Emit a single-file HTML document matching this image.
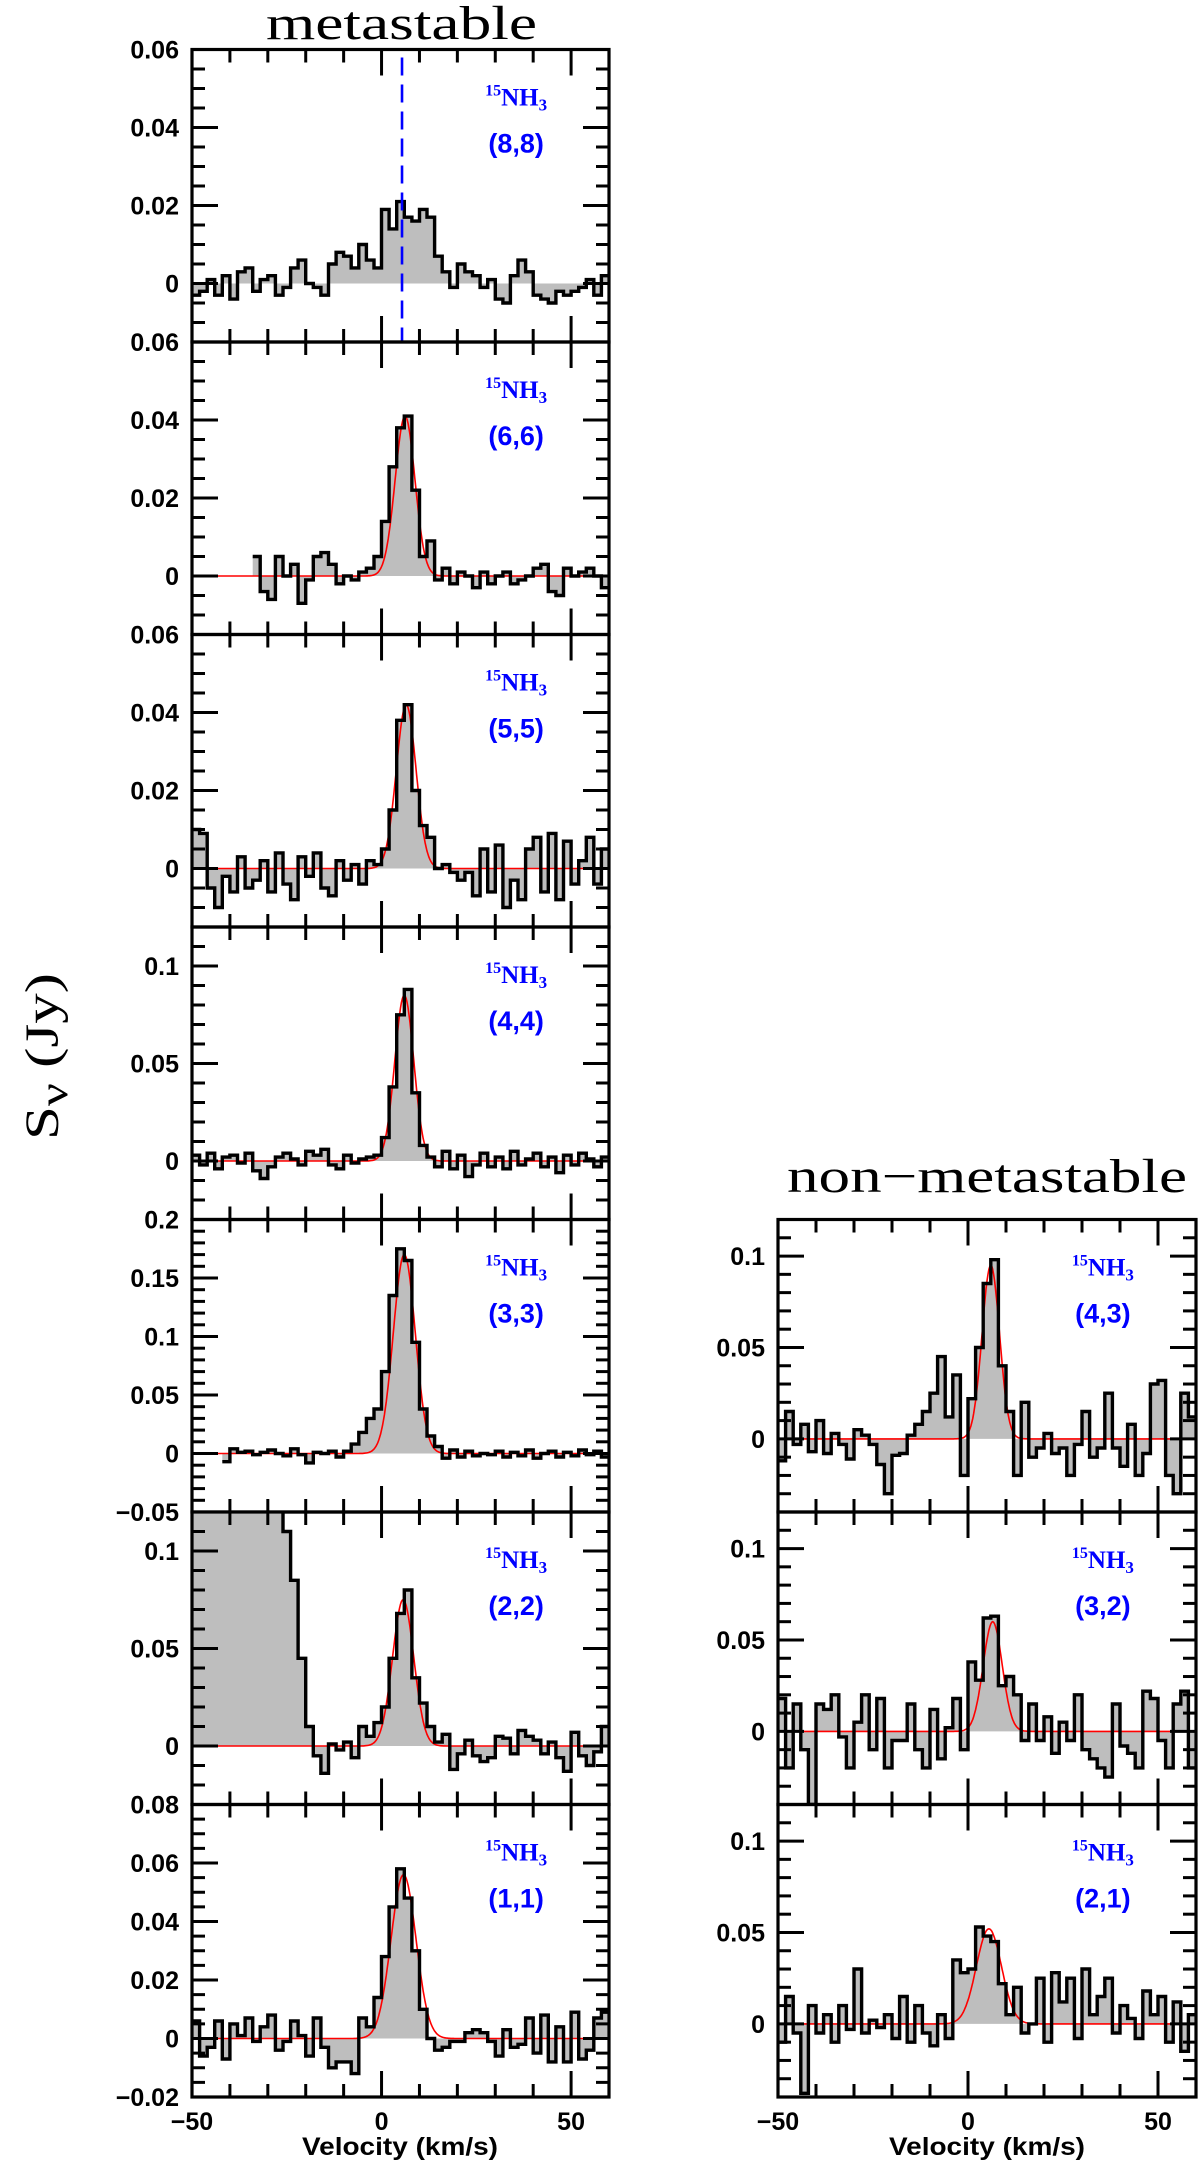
<!DOCTYPE html>
<html><head><meta charset="utf-8"><title>15NH3 spectra</title>
<style>
html,body{margin:0;padding:0;background:#fff;}
svg{display:block;}
.tick{font-family:"Liberation Sans",sans-serif;font-weight:bold;font-size:25px;fill:#000;}
.xt{font-family:"Liberation Sans",sans-serif;font-weight:bold;font-size:25px;fill:#000;}
.ttl{font-family:"Liberation Serif",serif;font-size:48px;fill:#000;}
.mol{font-family:"Liberation Serif",serif;font-weight:bold;fill:#0000ff;}
.tr{font-family:"Liberation Sans",sans-serif;font-weight:bold;font-size:27px;fill:#0000ff;}
</style></head>
<body>
<svg id="fig" xmlns="http://www.w3.org/2000/svg" width="1200" height="2164" viewBox="0 0 1200 2164">
<text class="ttl" x="266" y="39" textLength="271" lengthAdjust="spacingAndGlyphs">metastable</text>
<text class="ttl" x="787" y="1192" textLength="400" lengthAdjust="spacingAndGlyphs">non−metastable</text>
<text class="ttl" transform="translate(58,1140) rotate(-90)" font-size="60" textLength="167" lengthAdjust="spacingAndGlyphs">S<tspan font-size="40" dy="9">ν</tspan><tspan dy="-9"> (Jy)</tspan></text>
<text class="xt" x="400" y="2155" text-anchor="middle" font-size="24" textLength="196" lengthAdjust="spacingAndGlyphs">Velocity (km/s)</text>
<text class="xt" x="987" y="2155" text-anchor="middle" font-size="24" textLength="196" lengthAdjust="spacingAndGlyphs">Velocity (km/s)</text>
</svg>
<script>
// channel grid (km/s)
const chanStart = -49;
const chanWidth = 2;
// spectra in mJy, channels centred -49,-47,...,59
const s88 = [-3,-2,1,-3,2,-4,3,4,-2,1, 2,-3,-1,4,6,0,-1,-3,5,8, 7,4,10,6,4,19,14,21,17,16, 19,17,7,3,-1,5,3,2,-1,1, -4,-5,2,6,3,-3,-4,-5,-2,-3, -2,-1,1,-3,2];
const s66 = [null,null,null,null,null,null,null,null,5,-4, -6,5,0,3,-7,-1,5,6,3,-2, 0,-1,1,2,5,14,28,38,41,22, 5,9,-1,2,-2,1,0,-3,1,-2, 0,1,-2,-1,0,2,3,-4,-5,2, 0,1,2,0,-3];
const s55 = [10,9,-5,-10,-2,-6,3,-5,-3,2, -6,4,-4,-8,3,-2,4,-5,-7,2, -3,1,-4,2,1,5,15,38,42,20, 11,8,0,1,-1,-3,-1,-7,5,-6, 6,-10,-3,-8,5,8,-6,9,-8,7, -4,2,8,-4,5];
const s44 = [3,-2,4,-4,2,3,-1,4,-5,-9, -3,2,4,1,-2,5,3,6,-2,-4, 3,-1,1,2,3,12,38,75,88,35, 8,2,-3,5,-4,3,-8,-2,4,-3, 2,-4,5,-2,1,4,-3,2,-6,3, -2,4,1,-3,2];
const s33 = [null,null,null,null,-7,4,1,2,-1,1, 3,0,-2,4,-1,-8,1,0,2,-3, 2,8,18,30,38,70,135,175,165,95, 38,15,6,-4,3,-3,2,-2,0,-1, 2,-3,1,-2,3,-4,0,2,-3,1, -2,3,-1,2,-3];
const s22 = [200,200,200,200,200,200,200,200,200,200, 200,200,110,85,45,10,-5,-14,1,-2, 2,-6,10,5,12,20,45,68,80,35, 22,10,2,6,-12,-4,3,-5,-8,-6, 5,4,-4,8,5,3,-4,2,-6,-13, 7,-5,-10,-3,10];
const s11 = [6,-6,-3,6,-7,5,1,7,-1,4, 8,-4,-1,6,1,-6,7,-3,-10,-8, -8,-12,7,4,14,28,45,58,48,30, 10,0,-4,-3,-1,-1,2,3,2,-1, -6,3,-3,-2,7,-5,8,-8,4,-8, 9,-7,-4,7,9];
const s43 = [-12,15,-3,8,-7,10,-8,3,-3,-11, 5,2,-3,-14,-30,-9,-8,2,8,15, 25,45,12,35,-20,22,50,85,98,40, 15,-20,20,-10,-5,3,-8,-5,-20,-3, 15,-10,-5,25,-5,-15,8,-20,-8,30, 32,-20,-30,25,12];
const s32 = [18,-20,15,-10,-40,15,12,20,-3,-20, 5,20,-10,18,-20,-5,-5,15,-10,-20, 12,-15,2,18,-10,38,28,62,63,25, 30,20,-5,15,-5,8,-12,5,-5,20, -10,-15,-20,-25,15,-8,-12,-20,22,18, -5,-20,15,22,-20];
const s21 = [-10,15,-5,-38,10,-5,5,-10,10,-3, 30,-5,2,-2,5,-8,15,-10,10,-5, -12,5,-8,35,28,30,53,48,45,22, 5,20,-5,0,25,-10,28,12,25,-8, 30,5,15,25,-5,10,3,-8,18,5, 15,-10,12,-15,5];
// gaussian fits: [amplitude mJy, centre km/s, sigma km/s]
const fit66 = [41, 6.2, 2.6];
const fit55 = [42, 6.5, 2.6];
const fit44 = [85, 6.0, 2.5];
const fit33 = [170, 6.0, 2.9];
const fit22 = [75, 5.7, 2.8];
const fit11 = [56, 5.8, 3.3];
const fit43 = [95, 6.0, 2.3];
const fit32 = [60, 6.5, 2.5];
const fit21 = [52, 5.5, 3.3];
// dashed reference velocity in (8,8)
const vsys = [5.4];
// transition labels
const transitions = ['(8,8)','(6,6)','(5,5)','(4,4)','(3,3)','(2,2)','(1,1)','(4,3)','(3,2)','(2,1)'];
// y tick labels per panel
const yl88 = [0, 0.02, 0.04, 0.06];
const yl66 = [0, 0.02, 0.04, 0.06];
const yl55 = [0, 0.02, 0.04, 0.06];
const yl44 = [0, 0.05, 0.1];
const yl33 = [-0.05, 0, 0.05, 0.1, 0.15, 0.2];
const yl22 = [0, 0.05, 0.1];
const yl11 = [-0.02, 0, 0.02, 0.04, 0.06, 0.08];
const ylR = [0, 0.05, 0.1];
const xLabels = [-50, 0, 50];

const NS = 'http://www.w3.org/2000/svg';
const svg = document.getElementById('fig');
function mk(tag, attrs, parent) {
  const e = document.createElementNS(NS, tag);
  for (const k in attrs) e.setAttribute(k, attrs[k]);
  (parent || svg).appendChild(e);
  return e;
}
const LX0 = 192, LX1 = 609, RX0 = 778, RX1 = 1196, H = 292.5;
const panels = [
  {x0:LX0,x1:LX1,top:49.5,ymin:-0.015,ymax:0.06,minor:0.005,major:0.02,labels:yl88,data:s88,fit:null,t:0,key:'8-8'},
  {x0:LX0,x1:LX1,top:342,ymin:-0.015,ymax:0.06,minor:0.005,major:0.02,labels:yl66,data:s66,fit:fit66,t:1,key:'6-6'},
  {x0:LX0,x1:LX1,top:634.5,ymin:-0.015,ymax:0.06,minor:0.005,major:0.02,labels:yl55,data:s55,fit:fit55,t:2,key:'5-5'},
  {x0:LX0,x1:LX1,top:927,ymin:-0.03,ymax:0.12,minor:0.01,major:0.05,labels:yl44,data:s44,fit:fit44,t:3,key:'4-4'},
  {x0:LX0,x1:LX1,top:1219.5,ymin:-0.05,ymax:0.2,minor:0.01,major:0.05,labels:yl33,data:s33,fit:fit33,t:4,key:'3-3'},
  {x0:LX0,x1:LX1,top:1512,ymin:-0.03,ymax:0.12,minor:0.01,major:0.05,labels:yl22,data:s22,fit:fit22,t:5,key:'2-2'},
  {x0:LX0,x1:LX1,top:1804.5,ymin:-0.02,ymax:0.08,minor:0.005,major:0.02,labels:yl11,data:s11,fit:fit11,t:6,key:'1-1',xlab:true},
  {x0:RX0,x1:RX1,top:1219.5,ymin:-0.04,ymax:0.12,minor:0.01,major:0.05,labels:ylR,data:s43,fit:fit43,t:7,key:'4-3'},
  {x0:RX0,x1:RX1,top:1512,ymin:-0.04,ymax:0.12,minor:0.01,major:0.05,labels:ylR,data:s32,fit:fit32,t:8,key:'3-2'},
  {x0:RX0,x1:RX1,top:1804.5,ymin:-0.04,ymax:0.12,minor:0.01,major:0.05,labels:ylR,data:s21,fit:fit21,t:9,key:'2-1',xlab:true}
];
const VMIN = -50, VMAX = 60;
function fmt(v){ if (Math.abs(v) < 1e-9) return '0'; return String(+v.toFixed(3)).replace('-', '−'); }

panels.forEach((p, pi) => {
  const bot = p.top + H;
  const sx = v => p.x0 + (v - VMIN) / (VMAX - VMIN) * (p.x1 - p.x0);
  const sy = y => bot - (y - p.ymin) / (p.ymax - p.ymin) * H;
  const g = mk('g', {});
  
  
  const cp = mk('clipPath', {id: 'clip' + pi}, g);
  mk('rect', {x: p.x0, y: p.top, width: p.x1 - p.x0, height: H}, cp);
  const inner = mk('g', {'clip-path': 'url(#clip' + pi + ')'}, g);
  const runs = []; let cur = null;
  p.data.forEach((val, i) => {
    if (val === null) { cur = null; return; }
    const left = chanStart - chanWidth / 2 + i * chanWidth;
    if (!cur) { cur = []; runs.push(cur); }
    cur.push([left, left + chanWidth, val / 1000]);
  });
  let fillD = '', lineD = '';
  const y0 = sy(0);
  runs.forEach(r => {
    let ld = '';
    r.forEach((c, k) => {
      ld += (k === 0 ? 'M' : 'L') + sx(c[0]).toFixed(1) + ' ' + sy(c[2]).toFixed(1) + ' L' + sx(c[1]).toFixed(1) + ' ' + sy(c[2]).toFixed(1) + ' ';
    });
    lineD += ld;
    fillD += 'M' + sx(r[0][0]).toFixed(1) + ' ' + y0.toFixed(1) + ' ' + ld.replace(/^M/, 'L') + 'L' + sx(r[r.length - 1][1]).toFixed(1) + ' ' + y0.toFixed(1) + ' Z ';
  });
  const fill = mk('path', {d: fillD, fill: '#bebebe', stroke: 'none'}, inner);
  
  
  if (p.fit) {
    let fd = '';
    for (let v = VMIN; v <= VMAX + 0.01; v += 0.25) {
      const y = p.fit[0] / 1000 * Math.exp(-0.5 * Math.pow((v - p.fit[1]) / p.fit[2], 2));
      fd += (v === VMIN ? 'M' : 'L') + sx(v).toFixed(1) + ' ' + sy(y).toFixed(1) + ' ';
    }
    const fl = mk('path', {d: fd, fill: 'none', stroke: '#ff0000', 'stroke-width': 1.6}, inner);
    
    
  }
  const ln = mk('path', {d: lineD, fill: 'none', stroke: '#000', 'stroke-width': 3.4, 'stroke-linejoin': 'miter'}, inner);
  
  
  if (pi === 0) {
    const dl = mk('line', {x1: sx(vsys[0]), x2: sx(vsys[0]), y1: p.top + 8, y2: bot, stroke: '#0000ff', 'stroke-width': 2.6, 'stroke-dasharray': '18 9'}, inner);
    
    
  }
  for (let v = -40; v <= 50; v += 10) {
    const len = (v % 50 === 0) ? 26 : 13;
    mk('line', {x1: sx(v), x2: sx(v), y1: bot, y2: bot - len, stroke: '#000', 'stroke-width': 3}, g);
    mk('line', {x1: sx(v), x2: sx(v), y1: p.top, y2: p.top + len, stroke: '#000', 'stroke-width': 3}, g);
  }
  const n = Math.round((p.ymax - p.ymin) / p.minor);
  for (let k = 0; k <= n; k++) {
    const yv = p.ymin + k * p.minor;
    const q = yv / p.major;
    const isMaj = Math.abs(q - Math.round(q)) < 1e-6;
    const len = isMaj ? 26 : 13;
    const yy = sy(yv);
    if (yy <= p.top + 1 || yy >= bot - 1) continue;
    mk('line', {x1: p.x0, x2: p.x0 + len, y1: yy, y2: yy, stroke: '#000', 'stroke-width': 3}, g);
    mk('line', {x1: p.x1, x2: p.x1 - len, y1: yy, y2: yy, stroke: '#000', 'stroke-width': 3}, g);
  }
  const fr = mk('rect', {x: p.x0, y: p.top, width: p.x1 - p.x0, height: H, fill: 'none', stroke: '#000', 'stroke-width': 3.2}, g);
  
  
  p.labels.forEach(v => {
    const t = mk('text', {class: 'tick', x: p.x0 - 13, y: sy(v) + 9, 'text-anchor': 'end'}, g);
    
    
    t.textContent = fmt(v);
  });
  const lx = sx(35.5);
  const m = mk('text', {class: 'mol', x: lx, y: p.top + 56, 'text-anchor': 'middle', 'font-size': 25}, g);
  
  
  const t1 = mk('tspan', {'font-size': 16, dy: -10}, m); t1.textContent = '15';
  const t2 = mk('tspan', {dy: 10}, m); t2.textContent = 'NH';
  const t3 = mk('tspan', {'font-size': 17, dy: 5}, m); t3.textContent = '3';
  const tr = mk('text', {class: 'tr', x: lx, y: p.top + 103, 'text-anchor': 'middle'}, g);
  
  
  tr.textContent = transitions[p.t];
  if (p.xlab) {
    xLabels.forEach(v => {
      const xt = mk('text', {class: 'xt', x: sx(v), y: 2130, 'text-anchor': 'middle'}, g);
      
      
      xt.textContent = fmt(v);
    });
  }
});
</script>
</body></html>
